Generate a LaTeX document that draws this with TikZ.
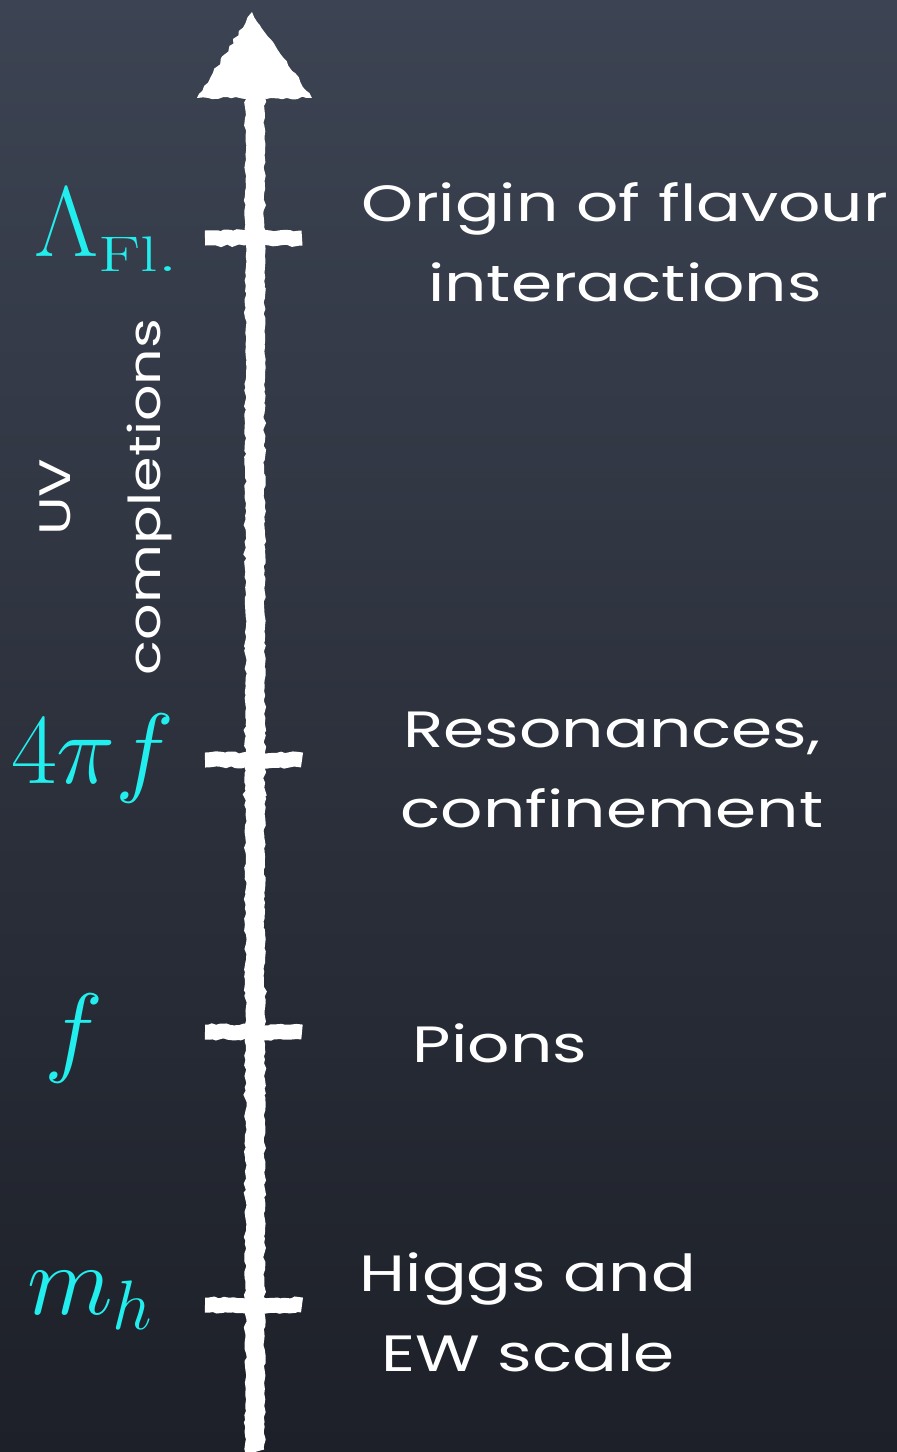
\RequirePackage{fix-cm}
\documentclass[tikz,border=0pt]{standalone}
\usepackage{fontspec}
\usepackage{graphicx}
\setsansfont[FakeStretch=1.3]{Poppins}
\usetikzlibrary{decorations.pathmorphing}
\definecolor{boardtop}{HTML}{3C4352}
\definecolor{boardbot}{HTML}{1D2028}
\definecolor{scalecyan}{HTML}{22EEEE}
\tikzset{
  chalk/.style={white, line width=#1,
    decorate, decoration={random steps, segment length=4pt, amplitude=1.2pt}},
  scalelabel/.style={text=scalecyan, font=\fontsize{100}{100}\selectfont},
  note/.style={text=white, align=center, font=\sffamily\fontsize{51}{80}\selectfont}
}
\begin{document}
\begin{tikzpicture}[x=1pt,y=-1pt]
  \useasboundingbox (0,0) rectangle (897,1452);
  \shade[top color=boardtop, bottom color=boardbot] (0,0) rectangle (897,1452);
  % energy axis
  \coordinate (axbot) at (255,1452);
  \coordinate (axtop) at (255,96);
  \draw[chalk=19pt] (axbot) -- (axtop);
  \fill[white, decorate, decoration={random steps, segment length=5pt, amplitude=1.5pt}]
    (252,12) -- (312,98) -- (197,98) -- cycle;
  % ticks
  \foreach \y/\nm in {238/fl, 760/conf, 1032/pion, 1305/higgs}
    \draw[chalk=15pt] (205,\y) coordinate (\nm L) -- (302,\y) coordinate (\nm R);
  % scales
  \node[scalelabel] (lfl) at (106,230)
    {$\Lambda_{\scalebox{1.4}[1]{$\scriptscriptstyle\mathrm{Fl.}$}}$};
  \node[scalelabel] (lconf) at (93,758) {$4\pi f$};
  \node[scalelabel] (lpion) at (74,1038) {$f$};
  \node[scalelabel] (lhiggs) at (90,1300) {$m_h$};
  % physics
  \node[note] (nfl) at (625,242) {Origin of flavour\\interactions};
  \node[note] (nconf) at (612,770) {Resonances,\\confinement};
  \node[note] (npion) at (500,1043) {Pions};
  \node[note] (nhiggs) at (528,1312) {Higgs and\\EW scale};
  \node[note, rotate=90, font=\sffamily\fontsize{44}{90}\selectfont] (uv) at (106,497) {UV\\completions};
\end{tikzpicture}
\end{document}
